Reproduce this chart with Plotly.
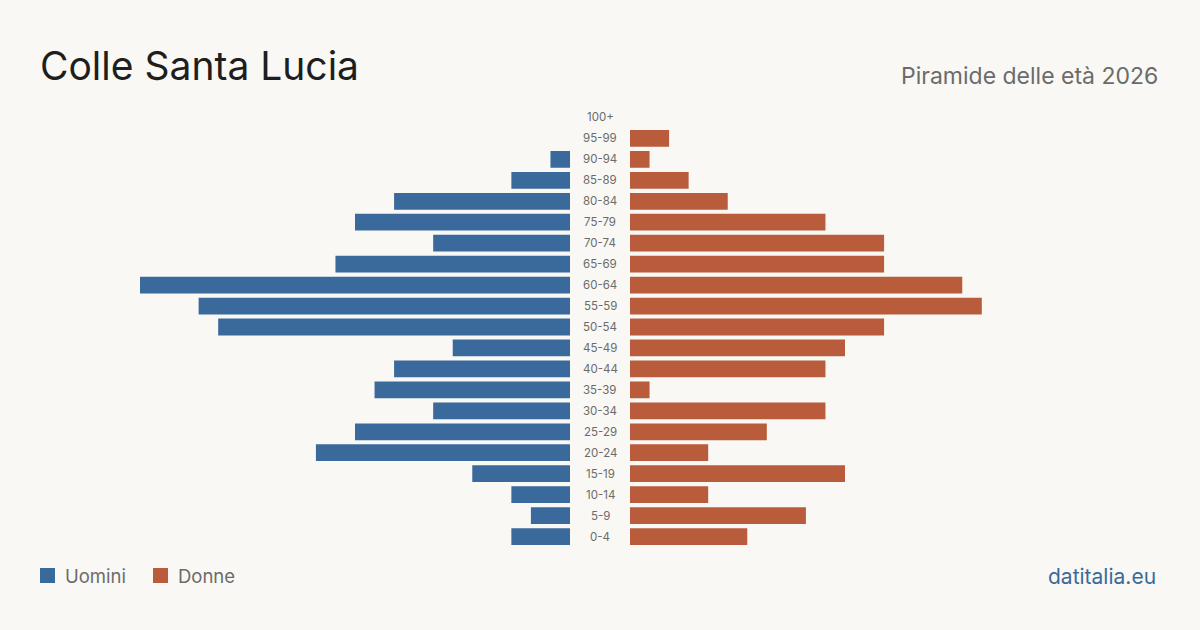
import plotly.graph_objects as go

ages = ["0-4", "5-9", "10-14", "15-19", "20-24", "25-29", "30-34", "35-39", "40-44",
        "45-49", "50-54", "55-59", "60-64", "65-69", "70-74", "75-79", "80-84",
        "85-89", "90-94", "95-99", "100+"]
men = [3, 2, 3, 5, 13, 11, 7, 10, 9, 6, 18, 19, 22, 12, 7, 11, 9, 3, 1, 0, 0]
women = [6, 9, 4, 11, 4, 7, 10, 1, 10, 11, 13, 18, 17, 13, 13, 10, 5, 3, 1, 2, 0]

title = "Colle Santa Lucia"
subtitle = "Piramide delle età 2026"
source = "datitalia.eu"

BLUE = "#3a6a9b"
ORANGE = "#b95c3c"
BG = "#f9f8f4"
FONT = "Inter"

W, H = 1200, 630
vmax = max(max(men), max(women))

fig = go.Figure()
fig.add_trace(go.Bar(y=ages, x=men, orientation="h", marker=dict(color=BLUE, line=dict(width=0)),
                     xaxis="x", yaxis="y", width=0.8, name="Uomini", showlegend=False))
fig.add_trace(go.Bar(y=ages, x=women, orientation="h", marker=dict(color=ORANGE, line=dict(width=0)),
                     xaxis="x2", yaxis="y2", width=0.8, name="Donne", showlegend=False))

ydom = [1 - 547 / H, 1 - 107 / H]
common_y = dict(domain=ydom, type="category", categoryorder="array", categoryarray=ages,
                range=[-0.5, len(ages) - 0.5], showticklabels=False, showgrid=False,
                zeroline=False, showline=False, fixedrange=True)
fig.update_layout(
    width=W, height=H,
    paper_bgcolor=BG, plot_bgcolor=BG,
    margin=dict(l=0, r=0, t=0, b=0),
    bargap=0.2,
    xaxis=dict(domain=[140 / W, 570 / W], range=[vmax, 0], showticklabels=False, showgrid=False,
               zeroline=False, showline=False),
    xaxis2=dict(domain=[630 / W, 1060 / W], range=[0, vmax], showticklabels=False, showgrid=False,
                zeroline=False, showline=False),
    yaxis=dict(anchor="x", **common_y),
    yaxis2=dict(anchor="x2", **common_y),
    font=dict(family=FONT),
)

ann = []
for a in ages:
    ann.append(dict(x=0.5, xref="paper", y=a, yref="y", text=a, showarrow=False,
                    xanchor="center", yanchor="middle",
                    font=dict(size=11.5, color="#6b6b6b", family=FONT)))
ann.append(dict(x=38 / W, y=1 - 66 / H, xref="paper", yref="paper", text=title, showarrow=False,
                xanchor="left", yanchor="middle", font=dict(size=39, color="#1e1e1e", family=FONT)))
ann.append(dict(x=1160 / W, y=1 - 76 / H, xref="paper", yref="paper", text=subtitle, showarrow=False,
                xanchor="right", yanchor="middle", font=dict(size=23, color="#6b6b6b", family=FONT)))
ann.append(dict(x=63 / W, y=1 - 576 / H, xref="paper", yref="paper", text="Uomini", showarrow=False,
                xanchor="left", yanchor="middle", font=dict(size=18.5, color="#6b6b6b", family=FONT)))
ann.append(dict(x=176 / W, y=1 - 576 / H, xref="paper", yref="paper", text="Donne", showarrow=False,
                xanchor="left", yanchor="middle", font=dict(size=18.5, color="#6b6b6b", family=FONT)))
ann.append(dict(x=1158 / W, y=1 - 576 / H, xref="paper", yref="paper", text=source, showarrow=False,
                xanchor="right", yanchor="middle", font=dict(size=21, color=BLUE, family=FONT)))
fig.update_layout(annotations=ann)

shapes = [
    dict(type="rect", xref="paper", yref="paper", x0=40 / W, x1=55 / W, y0=1 - 583 / H, y1=1 - 568 / H,
         fillcolor=BLUE, line=dict(width=0)),
    dict(type="rect", xref="paper", yref="paper", x0=153 / W, x1=168 / W, y0=1 - 583 / H, y1=1 - 568 / H,
         fillcolor=ORANGE, line=dict(width=0)),
]
fig.update_layout(shapes=shapes)

fig.write_html("out.html", config={"displayModeBar": False})
